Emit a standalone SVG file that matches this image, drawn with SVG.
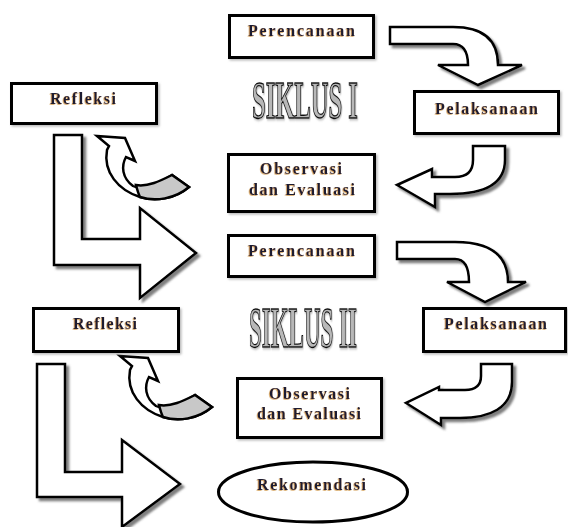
<svg xmlns="http://www.w3.org/2000/svg" width="568" height="527" viewBox="0 0 568 527">
<defs>
<filter id="sh" x="-20%" y="-20%" width="150%" height="150%">
<feDropShadow dx="3" dy="3" stdDeviation="1" flood-color="#555" flood-opacity="0.75"/>
</filter>
<filter id="tsh" x="-10%" y="-30%" width="120%" height="160%">
<feDropShadow dx="-0.7" dy="0.7" stdDeviation="0.3" flood-color="#c27a1e" flood-opacity="0.8"/>
</filter>
<filter id="bsh" x="-10%" y="-10%" width="130%" height="130%">
<feDropShadow dx="1.5" dy="1.5" stdDeviation="0.8" flood-color="#888" flood-opacity="0.6"/>
</filter>
</defs>
<style>
.box{fill:#fff;stroke:#000;stroke-width:3}
.lbl{font-family:"Liberation Serif",serif;font-weight:bold;font-size:16px;fill:#1c1c30;text-anchor:middle}
.arr{fill:#fff;stroke:#000;stroke-width:2.5;stroke-linejoin:miter}
.grey{fill:#c8c8c8;stroke:#000;stroke-width:2.5}
.title{font-family:"Liberation Serif",serif;font-weight:bold;fill:#b8b8b8;stroke:#111;stroke-width:1.3}
</style>
<rect width="568" height="527" fill="#fff"/>

<g id="connectors">
<path class="arr" filter="url(#sh)" d="M 390,27 L 453,27 Q 498,27 498,65 L 522,65 L 478,85 L 438,65 L 468,65 Q 468,44 453,44 L 390,44 Z"/>
<path class="arr" filter="url(#sh)" d="M 473,146 L 505,146 L 505,160 C 505,186 480,194 450,194 L 435,194 L 435,207 L 397,185 L 432,169 L 432,177 L 455,177 C 466,177 473,172 473,160 Z"/>
<g id="curve1">
<path class="arr" d="M 97,136 L 125,138 L 135,161 L 126,157 C 121,166 122,178 133,186 C 145,192 160,182 172,175 L 189,187 C 175,199 155,202 140,197 C 118,190 103,172 107,150 L 109,146 Z"/>
<path class="grey" d="M 136,185 C 148,187 160,181 172,175 L 189,187 C 175,199 155,202 140,197 C 138,193 137,189 136,185 Z"/>
</g>
<path class="arr" filter="url(#sh)" d="M 54,135 L 82,135 L 82,239 L 140,239 L 140,208 L 196,253 L 140,298 L 140,265 L 54,265 Z"/>
<path class="arr" filter="url(#sh)" d="M 397,242 L 455,242 Q 508,242 508,282 L 526,282 L 485,302 L 447,282 L 469,282 Q 469,259 455,259 L 397,259 Z"/>
<path class="arr" filter="url(#sh)" d="M 481,364 L 512,364 L 512,382 C 512,408 490,418 460,418 L 441,418 L 441,425 L 406,403 L 439,387 L 439,390 L 465,390 C 476,390 481,385 481,376 Z"/>
<g transform="translate(23,220)">
<path class="arr" d="M 97,136 L 125,138 L 135,161 L 126,157 C 121,166 122,178 133,186 C 145,192 160,182 172,175 L 189,187 C 175,199 155,202 140,197 C 118,190 103,172 107,150 L 109,146 Z"/>
<path class="grey" d="M 136,185 C 148,187 160,181 172,175 L 189,187 C 175,199 155,202 140,197 C 138,193 137,189 136,185 Z"/>
</g>
<path class="arr" filter="url(#sh)" d="M 37,364 L 65,364 L 65,472 L 122,472 L 122,440 L 180,484 L 122,527 L 122,497 L 37,497 Z"/>
</g>

<g id="perencanaan1">
<rect class="box" filter="url(#bsh)" x="229.5" y="15.5" width="144" height="42"/>
<text class="lbl" filter="url(#tsh)" x="301.5" y="36" textLength="107" lengthAdjust="spacing">Perencanaan</text>
</g>
<g id="pelaksanaan1">
<rect class="box" filter="url(#bsh)" x="414.5" y="91.5" width="144" height="42"/>
<text class="lbl" filter="url(#tsh)" x="486.5" y="114" textLength="103" lengthAdjust="spacing">Pelaksanaan</text>
</g>
<g id="refleksi1">
<rect class="box" filter="url(#bsh)" x="11.5" y="83.5" width="145" height="40"/>
<text class="lbl" filter="url(#tsh)" x="83" y="104" textLength="66" lengthAdjust="spacing">Refleksi</text>
</g>
<g id="siklus1">
<text class="title" transform="translate(252,118) scale(0.473,1)" x="0" y="0" font-size="52" filter="url(#bsh)">SIKLUS I</text>
</g>
<g id="observasi1">
<rect class="box" filter="url(#bsh)" x="228.5" y="154.5" width="146" height="57"/>
<text class="lbl" filter="url(#tsh)" x="301" y="174" textLength="82" lengthAdjust="spacing">Observasi</text>
<text class="lbl" filter="url(#tsh)" x="302" y="195" textLength="106" lengthAdjust="spacing">dan Evaluasi</text>
</g>
<g id="perencanaan2">
<rect class="box" filter="url(#bsh)" x="228.5" y="235.5" width="146" height="41"/>
<text class="lbl" filter="url(#tsh)" x="301.5" y="256" textLength="107" lengthAdjust="spacing">Perencanaan</text>
</g>
<g id="refleksi2">
<rect class="box" filter="url(#bsh)" x="33.5" y="308.5" width="145" height="43"/>
<text class="lbl" filter="url(#tsh)" x="105" y="329" textLength="64" lengthAdjust="spacing">Refleksi</text>
</g>
<g id="siklus2">
<text class="title" transform="translate(249,347) scale(0.403,1)" x="0" y="0" font-size="57" filter="url(#bsh)">SIKLUS II</text>
</g>
<g id="pelaksanaan2">
<rect class="box" filter="url(#bsh)" x="423.5" y="308.5" width="142" height="43"/>
<text class="lbl" filter="url(#tsh)" x="495.5" y="329" textLength="103" lengthAdjust="spacing">Pelaksanaan</text>
</g>
<g id="observasi2">
<rect class="box" filter="url(#bsh)" x="237.5" y="378.5" width="144" height="59"/>
<text class="lbl" filter="url(#tsh)" x="309.5" y="399" textLength="81" lengthAdjust="spacing">Observasi</text>
<text class="lbl" filter="url(#tsh)" x="309" y="419" textLength="104" lengthAdjust="spacing">dan Evaluasi</text>
</g>
<g id="rekomendasi">
<ellipse class="box" cx="313" cy="492" rx="94.5" ry="30"/>
<text class="lbl" filter="url(#tsh)" x="311.5" y="490" textLength="109" lengthAdjust="spacing">Rekomendasi</text>
</g>
</svg>
